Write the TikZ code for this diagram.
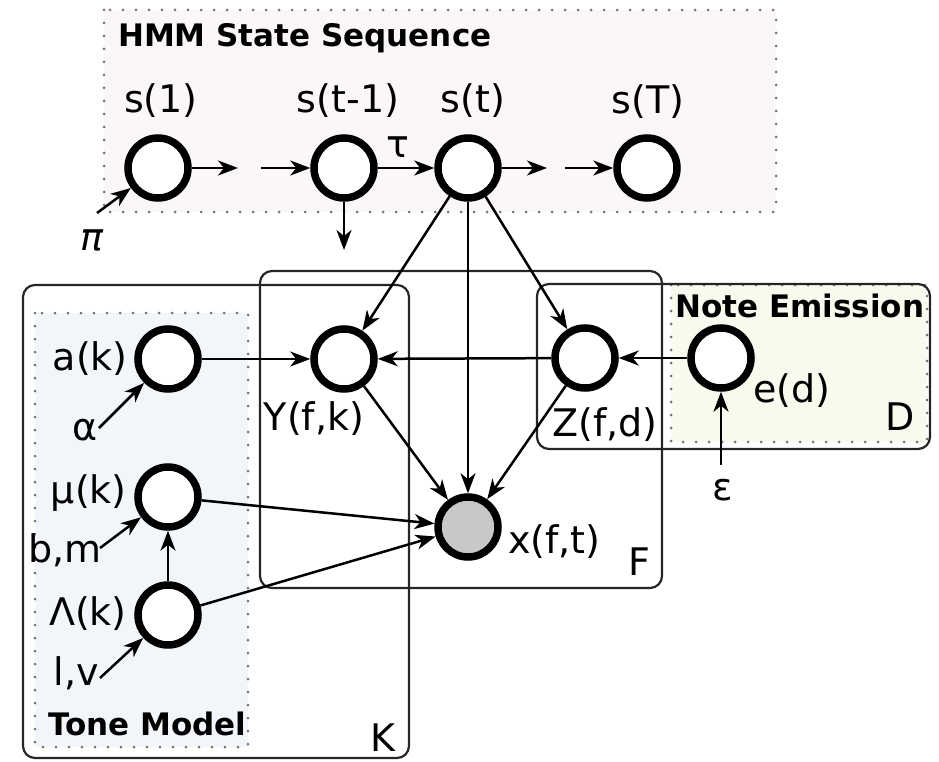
\documentclass[tikz,border=0pt]{standalone}
\usepackage{fontspec}
\setmainfont{DejaVu Sans}
\usetikzlibrary{arrows.meta}
\definecolor{hmmbg}{RGB}{252,247,247}
\definecolor{tonebg}{RGB}{242,246,251}
\definecolor{notebg}{RGB}{247,250,236}
\definecolor{obsgray}{RGB}{200,200,198}
\begin{document}
\begin{tikzpicture}[x=1pt,y=-1pt,
  lbl/.style={font=\fontsize{38}{40}\selectfont, inner sep=0pt},
  ttl/.style={font=\fontsize{31}{33}\selectfont\bfseries, inner sep=0pt},
  rv/.style={circle, draw, line width=7.5pt, minimum size=60pt, inner sep=0pt, fill=white},
  obs/.style={rv, fill=obsgray},
  edge/.style={line width=2.5pt, -{Stealth[length=20pt,width=15pt,inset=6pt]}},
  plate/.style={draw=black!85, line width=2.2pt, rounded corners=12pt},
  group/.style={draw=black!55, line width=3pt, line cap=round, dash pattern=on 0pt off 13pt},
]
\useasboundingbox (0,0) rectangle (939,762);

% shaded groups
\fill[hmmbg] (104,10) rectangle (776,212);
\draw[group] (104,10) rectangle (776,212);
\fill[tonebg] (35,313) rectangle (248,747);
\draw[group] (35,313) rectangle (248,747);
\fill[notebg] (671,285) rectangle (927,442);
\draw[group] (671,285) rectangle (927,442);

% plates
\draw[plate] (23,285) rectangle (409,758);
\draw[plate] (260,271) rectangle (662,588);
\draw[plate] (537,284) rectangle (930,449);

% group titles
\node[ttl, anchor=base west] (thmm) at (118,47) {HMM State Sequence};
\node[ttl, anchor=base west] (ttone) at (48,735) {Tone Model};
\node[ttl, anchor=base west] (tnote) at (675,317) {Note Emission};

% plate labels
\node[lbl, anchor=base] (lK) at (383,751) {K};
\node[lbl, anchor=base] (lF) at (639,575) {F};
\node[lbl, anchor=base] (lD) at (900,430) {D};

% state chain
\node[rv] (s1) at (158,168) {};
\node[rv] (stm1) at (344,168) {};
\node[rv] (st) at (468,168) {};
\node[rv] (sT) at (647,168) {};
\node[lbl, anchor=base] (ls1) at (161,113) {s(1)};
\node[lbl, anchor=base] (lstm1) at (348,113) {s(t-1)};
\node[lbl, anchor=base] (lst) at (473,113) {s(t)};
\node[lbl, anchor=base] (lsT) at (648,114) {s(T)};

% tone model
\node[rv] (a) at (168,359) {};
\node[rv] (mu) at (168,497) {};
\node[rv] (Lam) at (168,615) {};
\node[lbl, anchor=base east] (la) at (128,370) {a(k)};
\node[lbl, anchor=base east] (lmu) at (127,503) {μ(k)};
\node[lbl, anchor=base east] (lLam) at (127,625) {Λ(k)};

% emission side
\node[rv] (Y) at (344,359) {};
\node[rv] (Z) at (585,358) {};
\node[rv] (e) at (721,358) {};
\node[obs] (x) at (468,527) {};
\node[lbl, anchor=base] (lY) at (314,430) {Y(f,k)};
\node[lbl, anchor=base] (lZ) at (605,436) {Z(f,d)};
\node[lbl, anchor=base west] (le) at (753,402) {e(d)};
\node[lbl, anchor=base west] (lx) at (508,553) {x(f,t)};

% hyperparameters
\node[lbl, anchor=base] (lpi) at (92,250) {\itshape π};
\node[lbl, anchor=base] (ltau) at (398,158) {τ};
\node[lbl, anchor=base] (lalpha) at (85,440) {α};
\node[lbl, anchor=base] (lbm) at (65,562) {b,m};
\node[lbl, anchor=base] (llv) at (76,685) {l,v};
\node[lbl, anchor=base] (leps) at (723,500) {ε};

% free ends of the chain arrows
\coordinate (c1) at (238,168);
\coordinate (c2) at (261,168);
\coordinate (c3) at (547,168);
\coordinate (c4) at (565,168);
\coordinate (cdown) at (344,250);
\coordinate (cpi) at (97,213);
\coordinate (calpha) at (99,428);
\coordinate (cbm) at (100,548);
\coordinate (clv) at (100,678);
\coordinate (ceps) at (721,465);

% chain
\draw[edge] (s1) -- (c1);
\draw[edge] (c2) -- (stm1);
\draw[edge] (stm1) -- (st);
\draw[edge] (st) -- (c3);
\draw[edge] (c4) -- (sT);
\draw[edge] (stm1) -- (cdown);
\draw[edge] (cpi) -- (s1);

% state to emission
\draw[edge] (st) -- (Y);
\draw[edge] (st) -- (x);
\draw[edge] (st) -- (Z);

% tone model
\draw[edge] (calpha) -- (a);
\draw[edge] (cbm) -- (mu);
\draw[edge] (clv) -- (Lam);
\draw[edge] (Lam) -- (mu);
\draw[edge] (a) -- (Y);
\draw[edge] (mu) -- (x);
\draw[edge] (Lam) -- (x);

% notes
\draw[edge] (Z) -- (Y);
\draw[edge] (e) -- (Z);
\draw[edge] (ceps) -- (e);
\draw[edge] (Y) -- (x);
\draw[edge] (Z) -- (x);
\end{tikzpicture}
\end{document}
